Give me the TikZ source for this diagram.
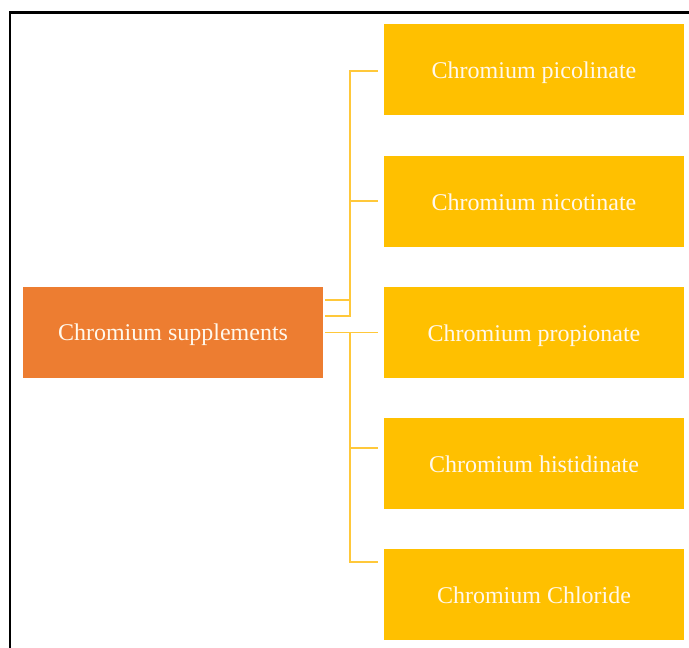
\documentclass[tikz,border=0pt]{standalone}
\usepackage{fontspec}
\setmainfont{Liberation Serif}
\definecolor{orangebox}{HTML}{ED7D31}
\definecolor{goldbox}{HTML}{FFC000}
\definecolor{goldline}{HTML}{FFC83A}
\definecolor{textcream}{HTML}{FFF8EC}
\begin{document}
\begin{tikzpicture}[x=1pt,y=-1pt,
  box/.style={minimum width=300pt,minimum height=91pt,inner sep=0pt,text height=20pt,text depth=2.5pt,text=textcream,font=\fontsize{24}{28}\selectfont},
  srcbox/.style={box,fill=orangebox},
  leafbox/.style={box,fill=goldbox},
  conn/.style={draw=goldline,line width=1.6pt}]
\useasboundingbox (0,0) rectangle (689,648);
\draw[line width=2.2pt] (10,648) -- (10,12.5) -- (689,12.5);
\node[srcbox] (src) at (173,332) {Chromium supplements};
\node[leafbox] (l1) at (534,69.5) {Chromium picolinate};
\node[leafbox] (l2) at (534,201.5) {Chromium nicotinate};
\node[leafbox] (l3) at (534,332.5) {Chromium propionate};
\node[leafbox] (l4) at (534,463.5) {Chromium histidinate};
\node[leafbox] (l5) at (534,594.5) {Chromium Chloride};
\coordinate (a1) at (325,300);
\coordinate (b1) at (350,300);
\coordinate (a2) at (325,316);
\coordinate (b2) at (350,316);
\coordinate (t1) at (350,71);
\coordinate (e1) at (378,71);
\coordinate (t2) at (350,201);
\coordinate (e2) at (378,201);
\coordinate (a3) at (325,332.5);
\coordinate (b3) at (350,332.5);
\coordinate (e3) at (378,332.5);
\coordinate (t4) at (350,448);
\coordinate (e4) at (378,448);
\coordinate (t5) at (350,562);
\coordinate (e5) at (378,562);
\draw[conn] (a1) -- (b1);
\draw[conn] (a2) -- (b2) -- (t1) -- (e1);
\draw[conn] (t2) -- (e2);
\draw[conn] (a3) -- (e3);
\draw[conn] (b3) -- (t5) -- (e5);
\draw[conn] (t4) -- (e4);
\end{tikzpicture}
\end{document}
